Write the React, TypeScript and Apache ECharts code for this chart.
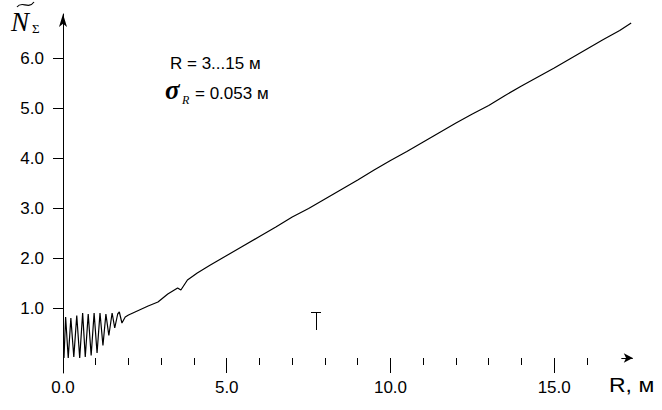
import React, { useEffect, useRef } from "react";
import * as echarts from "echarts";

// Distance R (m) and normalized count N~Σ
const R_VALUES = [
  0.03, 0.08, 0.16, 0.24, 0.33, 0.42, 0.51, 0.6, 0.68, 0.77, 0.86, 0.95, 1.04, 1.13, 1.22,
  1.31, 1.4, 1.5, 1.58, 1.67, 1.72, 1.8, 1.9, 2.0, 2.3, 2.6, 2.9, 3.2, 3.5, 3.6, 3.8, 4.1,
  4.5, 5.0, 5.5, 6.0, 6.5, 7.0, 7.5, 8.0, 8.5, 9.0, 9.5, 10.0, 10.5, 11.0, 11.5, 12.0, 12.5,
  13.0, 13.5, 14.0, 14.5, 15.0, 15.5, 16.0, 16.5, 17.0, 17.35,
];
const N_VALUES = [
  0.0, 0.82, 0.0, 0.8, 0.02, 0.85, 0.0, 0.9, 0.02, 0.88, 0.05, 0.9, 0.1, 0.9, 0.25,
  0.88, 0.45, 0.9, 0.6, 0.88, 0.92, 0.7, 0.82, 0.86, 0.95, 1.04, 1.12, 1.28, 1.4, 1.36, 1.56, 1.7,
  1.86, 2.05, 2.24, 2.43, 2.62, 2.82, 2.99, 3.18, 3.37, 3.56, 3.76, 3.95, 4.13, 4.32, 4.51, 4.7, 4.88,
  5.05, 5.25, 5.44, 5.62, 5.8, 5.99, 6.18, 6.37, 6.55, 6.7,
];

const X_LABEL_VALUES = [0, 5, 10, 15];
const X_MAJOR_TICKS = [5, 10, 15];
const X_MINOR_TICKS = [1, 2, 3, 4, 6, 7, 8, 9, 11, 12, 13, 14, 16];
const Y_TICKS = [1, 2, 3, 4, 5, 6];
const X_ARROW = [17.05, 17.4];
const Y_MIN = -0.3;

const TEXT_RANGE = "R = 3...15 м";
const TEXT_SIGMA = "σ";
const TEXT_SIGMA_SUB = "R";
const TEXT_SIGMA_VALUE = "= 0.053 м";
const TEXT_X_NAME = "R, м";
const TEXT_Y_NAME = "N";
const TEXT_Y_SUB = "Σ";

const SANS = "'Liberation Sans', Arial, sans-serif";
const SERIF = "'Liberation Serif', 'Times New Roman', serif";

export default function App() {
  const ref = useRef<HTMLDivElement>(null);

  useEffect(() => {
    if (!ref.current) return;
    document.body.style.margin = "0";
    const chart = echarts.init(ref.current, undefined, { renderer: "svg" });
    const data = R_VALUES.map((r, i) => [r, N_VALUES[i]]);
    const majorTickLines = X_MAJOR_TICKS.map((v) => [{ coord: [v, 0] }, { coord: [v, Y_MIN] }]);
    const arrowLine = [{ coord: [X_ARROW[0], 0] }, { coord: [X_ARROW[1], 0], symbol: "arrow", symbolSize: [7, 9] }];
    chart.setOption({
      animation: false,
      backgroundColor: "#fff",
      grid: { left: 63, right: 3, top: 14, bottom: 37 },
      xAxis: {
        type: "value",
        min: 0,
        max: 18.2,
        splitLine: { show: false },
        axisLine: { show: true, onZero: true, lineStyle: { color: "rgba(0,0,0,0)" } },
        axisTick: { show: true, customValues: X_MINOR_TICKS, length: 7, lineStyle: { color: "#000", width: 1 } },
        axisLabel: {
          show: true,
          customValues: X_LABEL_VALUES,
          formatter: (v: number) => v.toFixed(1),
          color: "#000",
          fontFamily: SANS,
          fontSize: 17,
          margin: 6,
        },
      },
      yAxis: {
        type: "value",
        min: Y_MIN,
        max: 6.88,
        splitLine: { show: false },
        axisLine: {
          show: true,
          onZero: false,
          symbol: ["none", "arrow"],
          symbolSize: [6, 13],
          lineStyle: { color: "#000", width: 1 },
        },
        axisTick: { show: true, customValues: Y_TICKS, length: 10, lineStyle: { color: "#000", width: 1 } },
        axisLabel: {
          show: true,
          customValues: Y_TICKS,
          formatter: (v: number) => v.toFixed(1),
          color: "#000",
          fontFamily: SANS,
          fontSize: 17,
          margin: 19,
        },
      },
      series: [
        {
          type: "line",
          data,
          symbol: "none",
          lineStyle: { color: "#000", width: 1.2 },
          silent: true,
          markLine: {
            silent: true,
            symbol: "none",
            label: { show: false },
            lineStyle: { color: "#000", width: 1, type: "solid" },
            data: [...majorTickLines, arrowLine],
          },
        },
      ],
      graphic: [
        { type: "text", left: 11, top: 8, style: { text: TEXT_Y_NAME, font: `italic 27px ${SERIF}`, fill: "#000" } },
        {
          type: "bezierCurve",
          shape: { x1: 17, y1: 7, cpx1: 22, cpy1: 0, cpx2: 28, cpy2: 10, x2: 34, y2: 2 },
          style: { stroke: "#000", lineWidth: 1.2, fill: "none" },
        },
        { type: "text", left: 32, top: 22, style: { text: TEXT_Y_SUB, font: `13px ${SERIF}`, fill: "#000" } },
        {
          type: "text",
          x: 170,
          y: 55,
          style: { text: TEXT_RANGE, font: `17px ${SANS}`, fill: "#000" },
        },
        {
          type: "text",
          x: 165,
          y: 76,
          style: { text: TEXT_SIGMA, font: `italic bold 27px ${SERIF}`, fill: "#000" },
        },
        {
          type: "text",
          x: 182,
          y: 94,
          style: { text: TEXT_SIGMA_SUB, font: `italic 12px ${SERIF}`, fill: "#000" },
        },
        {
          type: "text",
          x: 195,
          y: 85,
          style: { text: TEXT_SIGMA_VALUE, font: `17px ${SANS}`, fill: "#000" },
        },
        {
          type: "text",
          x: 609,
          y: 375,
          scaleX: 1.15,
          style: { text: TEXT_X_NAME, font: `20px ${SANS}`, fill: "#000" },
        },
        { type: "line", shape: { x1: 311, y1: 312.5, x2: 321, y2: 312.5 }, style: { stroke: "#000", lineWidth: 1 } },
        { type: "line", shape: { x1: 316.5, y1: 312, x2: 316.5, y2: 330 }, style: { stroke: "#000", lineWidth: 1 } },
      ],
    });
    return () => chart.dispose();
  }, []);

  return <div ref={ref} style={{ width: 662, height: 410 }} />;
}
